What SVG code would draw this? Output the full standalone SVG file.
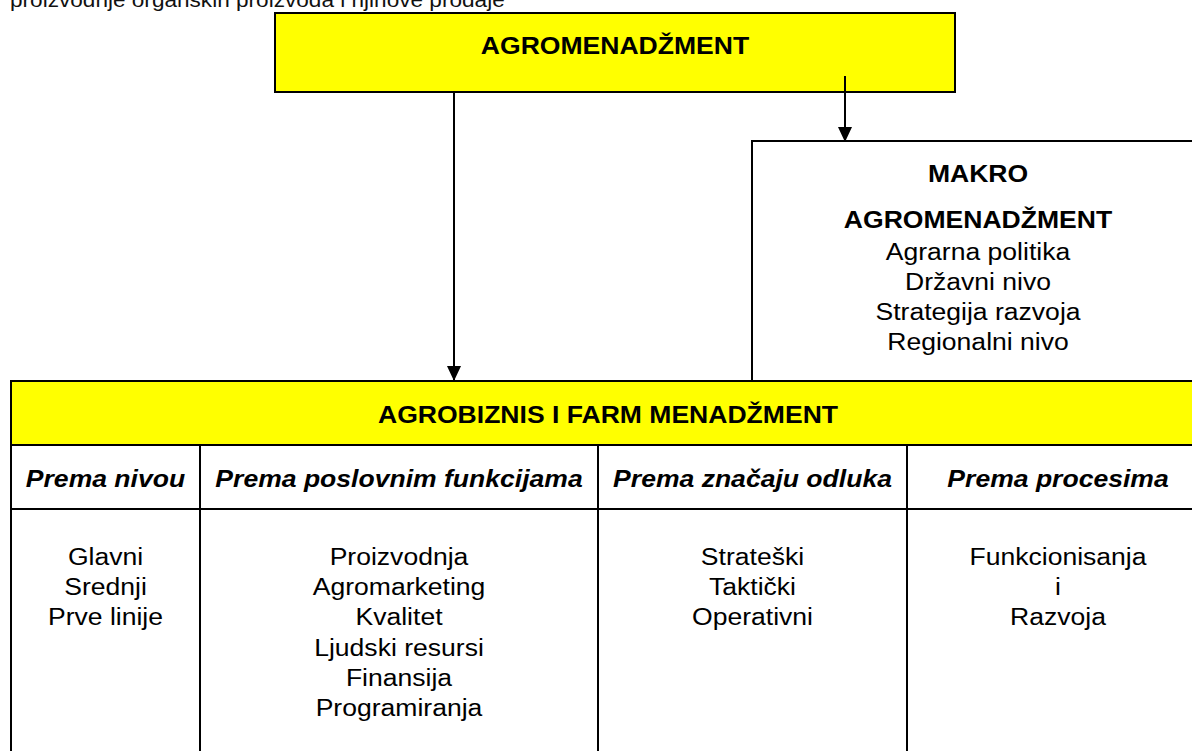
<svg xmlns="http://www.w3.org/2000/svg" width="1192" height="751" viewBox="0 0 1192 751">
  <style>
    text { font-family: "Liberation Sans", Arial, sans-serif; font-size: 23.5px; fill: #000; text-anchor: middle; }
    .b { font-weight: bold; }
    .bi { font-weight: bold; font-style: italic; }
    .lead { text-anchor: start; font-size: 20px; fill: #111; }
    .box { stroke: #000; stroke-width: 2; }
    .yel { fill: #FFFF00; }
    .ln { stroke: #000; stroke-width: 2; fill: none; }
  </style>
  <defs>
    <marker id="arrow" markerUnits="userSpaceOnUse" markerWidth="15" markerHeight="14" refX="15" refY="7" orient="auto">
      <path d="M0,0 L15,7 L0,14 Z" fill="#000"/>
    </marker>
  </defs>
  <rect width="1192" height="751" fill="#fff"/>

  <g id="lead-text">
    <text class="lead" transform="translate(10 7) scale(1.13 1)">proizvodnje organskih proizvoda i njihove prodaje</text>
  </g>

  <g id="node-agromenadzment">
    <rect class="box yel" x="275" y="13" width="680" height="79"/>
    <text class="b" transform="translate(615 54) scale(1.13 1)">AGROMENADŽMENT</text>
  </g>

  <g id="node-makro">
    <path class="ln" d="M752,381 V141 H1200"/>
    <text class="b" transform="translate(978 182) scale(1.13 1)">MAKRO</text>
    <text class="b" transform="translate(978 228) scale(1.13 1)">AGROMENADŽMENT</text>
    <text transform="translate(978 260) scale(1.13 1)">Agrarna politika</text>
    <text transform="translate(978 290) scale(1.13 1)">Državni nivo</text>
    <text transform="translate(978 320) scale(1.13 1)">Strategija razvoja</text>
    <text transform="translate(978 350) scale(1.13 1)">Regionalni nivo</text>
  </g>

  <g id="node-agrobiznis">
    <rect class="yel" x="11" y="381" width="1190" height="64"/>
    <path class="ln" d="M11,760 V381 H1200 M11,445 H1200 M11,509 H1200 M200,445 V760 M598,445 V760 M907,445 V760"/>
    <text class="b" transform="translate(608 423) scale(1.13 1)">AGROBIZNIS I FARM MENADŽMENT</text>
    <text class="bi" transform="translate(105.5 487) scale(1.13 1)">Prema nivou</text>
    <text class="bi" transform="translate(399 487) scale(1.13 1)">Prema poslovnim funkcijama</text>
    <text class="bi" transform="translate(752.5 487) scale(1.13 1)">Prema značaju odluka</text>
    <text class="bi" transform="translate(1058 487) scale(1.13 1)">Prema procesima</text>

    <text transform="translate(105.5 565) scale(1.13 1)">Glavni</text>
    <text transform="translate(105.5 595) scale(1.13 1)">Srednji</text>
    <text transform="translate(105.5 625) scale(1.13 1)">Prve linije</text>

    <text transform="translate(399 565) scale(1.13 1)">Proizvodnja</text>
    <text transform="translate(399 595) scale(1.13 1)">Agromarketing</text>
    <text transform="translate(399 625) scale(1.13 1)">Kvalitet</text>
    <text transform="translate(399 656) scale(1.13 1)">Ljudski resursi</text>
    <text transform="translate(399 686) scale(1.13 1)">Finansija</text>
    <text transform="translate(399 716) scale(1.13 1)">Programiranja</text>

    <text transform="translate(752.5 565) scale(1.13 1)">Strateški</text>
    <text transform="translate(752.5 595) scale(1.13 1)">Taktički</text>
    <text transform="translate(752.5 625) scale(1.13 1)">Operativni</text>

    <text transform="translate(1058 565) scale(1.13 1)">Funkcionisanja</text>
    <text transform="translate(1058 595) scale(1.13 1)">i</text>
    <text transform="translate(1058 625) scale(1.13 1)">Razvoja</text>
  </g>

  <g id="connectors">
    <line class="ln" x1="454" y1="92" x2="454" y2="381" marker-end="url(#arrow)"/>
    <line class="ln" x1="845" y1="76" x2="845" y2="142" marker-end="url(#arrow)"/>
  </g>
</svg>
